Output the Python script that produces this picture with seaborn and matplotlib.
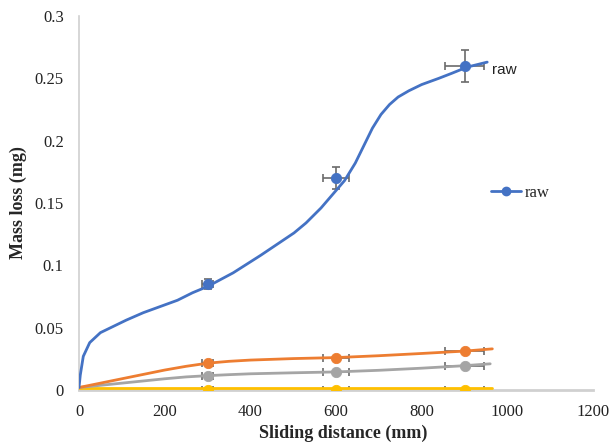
import numpy as np
import pandas as pd
import matplotlib
matplotlib.use("Agg")
import matplotlib.pyplot as plt
from matplotlib.lines import Line2D
import seaborn as sns

# mesures (points avec barres d'erreur)
distance = [300, 600, 900]
raw_blue = [0.085, 0.170, 0.260]
raw_orange = [0.0217, 0.0257, 0.0313]
raw_gray = [0.0112, 0.0144, 0.0195]
raw_yellow = [0.0003, 0.0003, 0.0003]
xerr = [13, 30, 45]
yerr_blue = [0.004, 0.0085, 0.013]
yerr_small = [0.0008, 0.0008, 0.0008]

# courbes
blue_cx = [0, 3, 10, 25, 50, 80, 110, 150, 190, 230, 265, 300, 360, 424, 502,
           530, 565, 590, 620, 645, 665, 685, 705, 725, 745, 770, 800, 840,
           870, 906, 953]
blue_cy = [0.002, 0.012, 0.027, 0.038, 0.046, 0.051, 0.056, 0.062, 0.067,
           0.072, 0.078, 0.083, 0.094, 0.108, 0.126, 0.134, 0.146, 0.156,
           0.168, 0.182, 0.196, 0.210, 0.221, 0.229, 0.235, 0.240, 0.245,
           0.250, 0.254, 0.259, 0.263]
orange_cx = [0, 100, 200, 250, 300, 350, 400, 500, 600, 700, 800, 900, 965]
orange_cy = [0.002, 0.009, 0.016, 0.019, 0.0215, 0.0230, 0.0240, 0.0252,
             0.0260, 0.0275, 0.0293, 0.0312, 0.0330]
gray_cx = [0, 100, 200, 250, 300, 350, 400, 500, 600, 700, 800, 900, 960]
gray_cy = [0.002, 0.0055, 0.009, 0.0105, 0.0115, 0.0123, 0.0130, 0.0138,
           0.0145, 0.0158, 0.0175, 0.0195, 0.0210]
yellow_cx = [0, 965]
yellow_cy = [0.0015, 0.0015]

colors = {"blue": "#4472C4", "orange": "#ED7D31", "gray": "#A5A5A5", "yellow": "#FFC000"}

sns.set_style("white")
plt.rcParams['font.family'] = ['Liberation Serif', 'DejaVu Serif']

fig = plt.figure(figsize=(6.11, 4.43), dpi=100)
ax = fig.add_axes([79 / 611, 53 / 443, 514 / 611, 374 / 443])

series = [
    ("yellow", yellow_cx, yellow_cy, raw_yellow, yerr_small),
    ("gray", gray_cx, gray_cy, raw_gray, yerr_small),
    ("orange", orange_cx, orange_cy, raw_orange, yerr_small),
    ("blue", blue_cx, blue_cy, raw_blue, yerr_blue),
]
for name, cx, cy, py, ye in series:
    sns.lineplot(x=cx, y=cy, color=colors[name], lw=2, sort=False, ax=ax, zorder=3)
    ax.errorbar(distance, py, xerr=xerr, yerr=ye, fmt='none', ecolor="#6b6b6b",
                elinewidth=1.2, capsize=3, capthick=1.2, zorder=2)
    sns.scatterplot(x=distance, y=py, color=colors[name], s=55, edgecolor=colors[name],
                    ax=ax, zorder=4, legend=False)

ax.set_xlim(0, 1200)
ax.set_ylim(0, 0.3)
ax.set_xticks(range(0, 1201, 200))
ax.set_yticks([0, 0.05, 0.1, 0.15, 0.2, 0.25, 0.3])
ax.set_yticklabels(["0", "0.05", "0.1", "0.15", "0.2", "0.25", "0.3"])
ax.tick_params(length=0, labelsize=12, colors="#222222")
ax.tick_params(axis="x", pad=10)
ax.tick_params(axis="y", pad=11)
for s in ["top", "right"]:
    ax.spines[s].set_visible(False)
ax.spines["left"].set_color("#d0d0d0")
ax.spines["bottom"].set_color("#d0d0d0")
ax.spines["left"].set_linewidth(1.2)
ax.spines["bottom"].set_linewidth(2)

ax.set_xlabel("Sliding distance (mm)", fontsize=13, fontweight="bold")
ax.set_ylabel("Mass loss (mg)", fontsize=13, fontweight="bold")
ax.xaxis.set_label_coords((343 - 79) / 514, -0.093)
ax.yaxis.set_label_coords(-0.101, (390 - 203) / 374)

ax.text(965, 0.2568, "raw", fontsize=11, family=["Liberation Sans", "DejaVu Sans"],
        va="center", ha="left", color="#222222")

handle = Line2D([0], [0], color=colors["blue"], lw=2, marker="o", ms=6)
fig.legend([handle], ["raw"], loc="center left", bbox_to_anchor=(476 / 611, 1 - 193 / 443),
           frameon=False, fontsize=12, handlelength=1.8, handletextpad=0.2)

fig.savefig("out.png", dpi=100)
